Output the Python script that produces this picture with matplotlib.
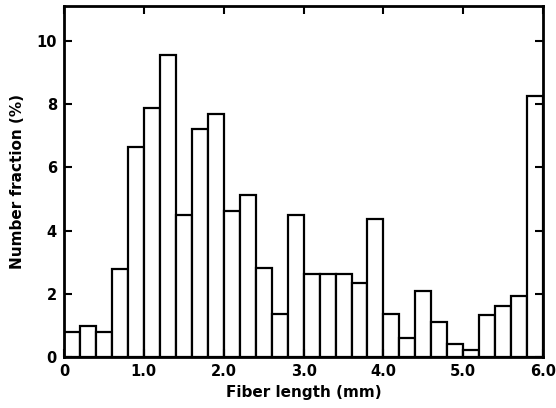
import matplotlib
matplotlib.use("Agg")
import matplotlib.pyplot as plt
import numpy as np

# bin left edges (mm) and number fraction (%) per 0.2 mm bin
bin_width = 0.2
bin_edges = np.round(np.arange(0.0, 6.0, bin_width), 1)
fractions = [
    0.79, 0.99, 0.79, 2.77, 6.65, 7.87, 9.54, 4.50, 7.20, 7.68,
    4.62, 5.14, 2.82, 1.35, 4.50, 2.64, 2.64, 2.64, 2.33, 4.38,
    1.36, 0.60, 2.09, 1.11, 0.42, 0.23, 1.33, 1.62, 1.93, 8.26,
]
x_ticks = [0, 1, 2, 3, 4, 5, 6]
x_tick_labels = ["0", "1.0", "2.0", "3.0", "4.0", "5.0", "6.0"]
y_ticks = [0, 2, 4, 6, 8, 10]

fig = plt.figure(figsize=(5.56, 4.08), dpi=100)
axis = fig.add_axes([0.115, 0.125, 0.862, 0.86])

axis.bar(bin_edges, fractions, width=bin_width, align="edge",
         facecolor="white", edgecolor="black", linewidth=1.6)

axis.set_xlim(0, 6.0)
axis.set_ylim(0, 11.1)
axis.set_xticks(x_ticks, x_tick_labels)
axis.set_yticks(y_ticks)
axis.tick_params(direction="in", top=True, right=True, length=6, width=1.5,
                 labelsize=10.5, pad=5)
for label in axis.get_xticklabels() + axis.get_yticklabels():
    label.set_fontweight("bold")
for spine in axis.spines.values():
    spine.set_linewidth(2)

axis.set_xlabel("Fiber length (mm)", fontsize=11, fontweight="bold", labelpad=4)
axis.set_ylabel("Number fraction (%)", fontsize=11, fontweight="bold", labelpad=8)

fig.savefig("out.png", dpi=100)
